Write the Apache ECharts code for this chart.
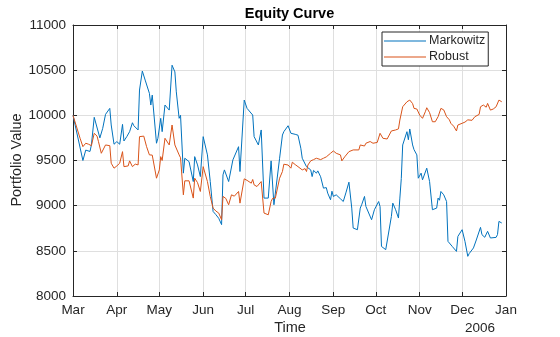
<!DOCTYPE html>
<html>
<head>
<meta charset="utf-8">
<script src="https://cdn.jsdelivr.net/npm/echarts@6/dist/echarts.min.js"></script>
<style>html,body{margin:0;padding:0;background:#fff}#c{width:560px;height:337px}</style>
</head>
<body>
<div id="c"></div>
<script>
var monthLabels = ['Jan','Feb','Mar','Apr','May','Jun','Jul','Aug','Sep','Oct','Nov','Dec'];
var yTicks = [8000, 8500, 9000, 9500, 10000, 10500, 11000];

var markowitzDates = ['2006-03-01','2006-03-08','2006-03-10','2006-03-13','2006-03-14','2006-03-16','2006-03-17','2006-03-20','2006-03-21','2006-03-22','2006-03-24','2006-03-27','2006-03-28','2006-03-29','2006-03-30','2006-04-01','2006-04-03','2006-04-05','2006-04-06','2006-04-08','2006-04-10','2006-04-12','2006-04-13','2006-04-16','2006-04-17','2006-04-18','2006-04-19','2006-04-21','2006-04-24','2006-04-25','2006-04-26','2006-04-29','2006-04-30','2006-05-02','2006-05-03','2006-05-05','2006-05-08','2006-05-10','2006-05-12','2006-05-13','2006-05-15','2006-05-16','2006-05-18','2006-05-19','2006-05-22','2006-05-25','2006-05-26','2006-05-28','2006-05-30','2006-06-01','2006-06-04','2006-06-06','2006-06-08','2006-06-10','2006-06-12','2006-06-14','2006-06-15','2006-06-16','2006-06-19','2006-06-22','2006-06-26','2006-06-27','2006-06-30','2006-07-02','2006-07-06','2006-07-07','2006-07-10','2006-07-12','2006-07-14','2006-07-17','2006-07-19','2006-07-21','2006-07-25','2006-07-27','2006-07-28','2006-07-31','2006-08-02','2006-08-03','2006-08-05','2006-08-07','2006-08-09','2006-08-10','2006-08-13','2006-08-16','2006-08-17','2006-08-18','2006-08-20','2006-08-21','2006-08-23','2006-08-25','2006-08-27','2006-08-28','2006-08-30','2006-08-31','2006-09-01','2006-09-03','2006-09-06','2006-09-08','2006-09-10','2006-09-12','2006-09-14','2006-09-15','2006-09-18','2006-09-20','2006-09-21','2006-09-23','2006-09-24','2006-09-28','2006-09-30','2006-10-03','2006-10-04','2006-10-05','2006-10-08','2006-10-09','2006-10-12','2006-10-13','2006-10-15','2006-10-17','2006-10-18','2006-10-19','2006-10-20','2006-10-23','2006-10-24','2006-10-25','2006-10-27','2006-10-28','2006-10-30','2006-10-31','2006-11-02','2006-11-03','2006-11-06','2006-11-08','2006-11-10','2006-11-13','2006-11-14','2006-11-15','2006-11-16','2006-11-18','2006-11-20','2006-11-21','2006-11-24','2006-11-27','2006-11-28','2006-11-29','2006-12-01','2006-12-03','2006-12-05','2006-12-06','2006-12-09','2006-12-11','2006-12-14','2006-12-15','2006-12-17','2006-12-19','2006-12-21','2006-12-25','2006-12-26','2006-12-27','2006-12-29'];
var markowitzValues = [10000,9500,9615,9600,9672,9978,9990,9750,9770,9856,10011,10077,9893,9880,9680,9709,9680,9900,9716,9764,9819,9918,9885,9838,10280,10300,10490,10390,10243,10114,10224,9691,9746,9967,9819,10114,10058,10555,10481,10260,9967,10000,9360,9525,9488,9267,9543,9451,9322,9764,9562,9267,8936,8900,8860,8790,9341,9396,9267,9507,9653,9378,10169,10077,10003,9764,9672,9838,9084,9084,9496,9010,9525,9782,9819,9885,9801,9820,9790,9780,9636,9525,9432,9396,9322,9390,9360,9385,9320,9194,9200,9139,9065,9160,9102,9120,9076,9046,9150,9260,8973,8752,8734,8973,9010,9102,8991,8844,8955,9046,8990,8549,8513,8530,8881,9028,8955,8863,9084,9300,9672,9819,9730,9849,9672,9620,9562,9304,9360,9286,9415,9267,8955,8973,9084,9060,9157,9120,9046,8605,8549,8494,8660,8640,8734,8605,8439,8470,8532,8620,8760,8679,8650,8716,8642,8649,8680,8826,8808];

var robustDates = ['2006-03-01','2006-03-06','2006-03-08','2006-03-10','2006-03-12','2006-03-14','2006-03-16','2006-03-18','2006-03-19','2006-03-21','2006-03-22','2006-03-24','2006-03-27','2006-03-28','2006-03-29','2006-03-30','2006-04-01','2006-04-03','2006-04-05','2006-04-06','2006-04-09','2006-04-10','2006-04-12','2006-04-14','2006-04-16','2006-04-17','2006-04-18','2006-04-20','2006-04-22','2006-04-24','2006-04-26','2006-04-29','2006-05-01','2006-05-02','2006-05-03','2006-05-05','2006-05-08','2006-05-10','2006-05-11','2006-05-12','2006-05-15','2006-05-16','2006-05-18','2006-05-19','2006-05-22','2006-05-25','2006-05-26','2006-05-28','2006-05-30','2006-06-01','2006-06-04','2006-06-06','2006-06-08','2006-06-10','2006-06-12','2006-06-14','2006-06-15','2006-06-17','2006-06-19','2006-06-21','2006-06-23','2006-06-26','2006-06-27','2006-06-30','2006-07-02','2006-07-05','2006-07-06','2006-07-07','2006-07-09','2006-07-12','2006-07-14','2006-07-17','2006-07-19','2006-07-20','2006-07-22','2006-07-25','2006-07-27','2006-07-28','2006-07-31','2006-08-02','2006-08-03','2006-08-05','2006-08-07','2006-08-10','2006-08-12','2006-08-13','2006-08-14','2006-08-16','2006-08-18','2006-08-20','2006-08-23','2006-08-25','2006-08-27','2006-08-30','2006-09-01','2006-09-03','2006-09-06','2006-09-07','2006-09-09','2006-09-12','2006-09-15','2006-09-19','2006-09-20','2006-09-21','2006-09-23','2006-09-24','2006-09-27','2006-09-29','2006-10-02','2006-10-04','2006-10-06','2006-10-09','2006-10-12','2006-10-15','2006-10-17','2006-10-18','2006-10-20','2006-10-23','2006-10-25','2006-10-27','2006-10-28','2006-10-30','2006-11-01','2006-11-03','2006-11-05','2006-11-06','2006-11-08','2006-11-10','2006-11-12','2006-11-14','2006-11-15','2006-11-16','2006-11-18','2006-11-20','2006-11-22','2006-11-23','2006-11-25','2006-11-27','2006-11-28','2006-11-29','2006-12-01','2006-12-03','2006-12-04','2006-12-05','2006-12-08','2006-12-10','2006-12-11','2006-12-13','2006-12-14','2006-12-16','2006-12-18','2006-12-19','2006-12-21','2006-12-23','2006-12-25','2006-12-27','2006-12-29'];
var robustValues = [10000,9746,9653,9691,9680,9664,9801,9770,9709,9580,9585,9672,9664,9470,9480,9415,9440,9470,9598,9432,9440,9496,9432,9460,9451,9764,9750,9770,9653,9562,9560,9304,9396,9543,9500,9746,9672,9893,9880,9672,9562,9530,9120,9275,9275,9084,9304,9255,9157,9432,9267,9102,8973,8940,8918,8844,9102,9080,9010,9120,9105,9157,9028,9297,9280,9249,9290,9230,9212,9267,8918,8899,9046,9080,9084,9304,9378,9459,9450,9415,9481,9455,9432,9396,9410,9378,9450,9496,9510,9525,9510,9525,9540,9580,9606,9580,9562,9496,9540,9598,9617,9617,9672,9653,9660,9691,9710,9691,9700,9801,9746,9738,9827,9838,9850,9948,10095,10150,10169,10130,10077,10070,10003,9967,10040,10084,10030,9929,9929,9985,9980,10077,10060,9985,9950,9912,9880,9827,9893,9880,9912,9925,9929,9950,9945,9985,10000,10010,10095,10114,10090,10132,10058,10070,10095,10169,10150];

function zip(d, v) { return d.map(function (x, i) { return [x, v[i]]; }); }

var FONT = '"Liberation Sans", Arial, Helvetica, sans-serif';
var TXT = '#262626';
var chart = echarts.init(document.getElementById('c'), null, { renderer: 'canvas' });

var timeAxisBase = {
  type: 'time',
  min: '2006-03-01',
  max: '2007-01-01',
  splitNumber: 10,
  minInterval: 28 * 86400000,
  axisLine: { show: true, lineStyle: { color: TXT, width: 1 } },
  axisTick: { show: true, inside: true, length: 4, lineStyle: { color: TXT } }
};

chart.setOption({
  animation: false,
  color: ['#0072BD', '#D95319'],
  grid: { left: 73, right: 54, top: 25, bottom: 41, containLabel: false },
  xAxis: [
    Object.assign({}, timeAxisBase, {
      position: 'bottom',
      axisLabel: {
        show: true, color: TXT, fontFamily: FONT, fontSize: 13.5, margin: 7,
        showMinLabel: true, showMaxLabel: true,
        formatter: function (val) { return monthLabels[new Date(val).getMonth()]; },
        rich: {}
      },
      splitLine: { show: true, lineStyle: { color: '#dfdfdf', width: 1 } }
    }),
    Object.assign({}, timeAxisBase, {
      position: 'top',
      axisLabel: { show: false },
      splitLine: { show: false }
    })
  ],
  yAxis: [
    {
      type: 'value', min: yTicks[0], max: yTicks[yTicks.length - 1], interval: 500,
      position: 'left',
      axisLine: { show: true, lineStyle: { color: TXT, width: 1 } },
      axisTick: { show: true, inside: true, length: 4, lineStyle: { color: TXT } },
      axisLabel: { color: TXT, fontFamily: FONT, fontSize: 13.5, margin: 7, formatter: function (v) { return String(v); } },
      splitLine: { show: true, lineStyle: { color: '#dfdfdf', width: 1 } }
    },
    {
      type: 'value', min: yTicks[0], max: yTicks[yTicks.length - 1], interval: 500,
      position: 'right',
      axisLine: { show: true, lineStyle: { color: TXT, width: 1 } },
      axisTick: { show: true, inside: true, length: 4, lineStyle: { color: TXT } },
      axisLabel: { show: false },
      splitLine: { show: false }
    }
  ],
  legend: {
    orient: 'vertical',
    left: 382, top: 32,
    padding: [2, 3, 2, 2],
    itemGap: 2,
    itemWidth: 42,
    itemHeight: 1.2,
    icon: 'rect',
    backgroundColor: '#fff',
    borderColor: TXT,
    borderWidth: 1,
    borderRadius: 0,
    textStyle: { color: TXT, fontFamily: FONT, fontSize: 12.5, lineHeight: 14, padding: [0, 0, 0, -2] },
    data: ['Markowitz', 'Robust']
  },
  graphic: [
    { type: 'text', x: 289.5, y: 14, style: { text: 'Equity Curve', font: 'bold 14.5px ' + FONT, fill: '#000', textAlign: 'center', textVerticalAlign: 'middle' } },
    { type: 'text', x: 290, y: 328, style: { text: 'Time', font: '14.5px ' + FONT, fill: TXT, textAlign: 'center', textVerticalAlign: 'middle' } },
    { type: 'text', x: 480, y: 328, style: { text: '2006', font: '13.5px ' + FONT, fill: TXT, textAlign: 'center', textVerticalAlign: 'middle' } },
    { type: 'text', x: 17, y: 160, rotation: Math.PI / 2, style: { text: 'Portfolio Value', font: '14.5px ' + FONT, fill: TXT, textAlign: 'center', textVerticalAlign: 'middle' } }
  ],
  series: [
    { name: 'Markowitz', type: 'line', xAxisIndex: 0, yAxisIndex: 0, showSymbol: false, symbol: 'none', lineStyle: { width: 1 }, data: zip(markowitzDates, markowitzValues) },
    { name: 'Robust', type: 'line', xAxisIndex: 0, yAxisIndex: 0, showSymbol: false, symbol: 'none', lineStyle: { width: 1 }, data: zip(robustDates, robustValues) }
  ]
});
</script>
</body>
</html>
